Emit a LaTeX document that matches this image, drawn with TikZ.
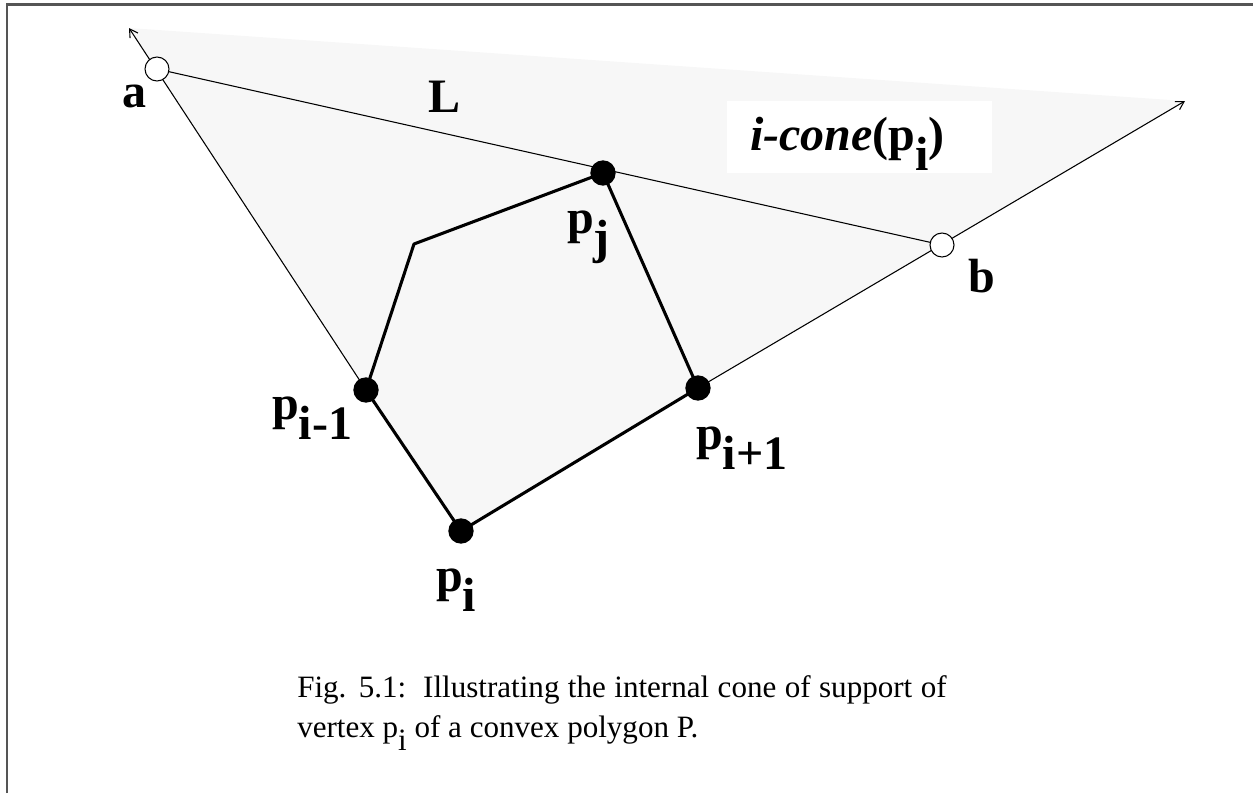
\documentclass[tikz,border=0pt]{standalone}
\usepackage{fontspec}
\setmainfont{Liberation Serif}
\usetikzlibrary{arrows.meta}
\definecolor{framegray}{HTML}{555555}
\definecolor{conegray}{HTML}{F7F7F7}
\newcommand{\lowsub}[1]{\raisebox{-0.42em}{#1}}
\tikzset{
  thinline/.style={line width=0.8pt, black},
  polyedge/.style={line width=2.3pt, black, line join=round},
  ray/.style={thinline, -{Straight Barb[length=6pt,width=7pt]}},
  vdot/.style={circle, fill=black, inner sep=0pt, minimum size=19pt},
  odot/.style={circle, fill=white, draw=black, line width=0.8pt, inner sep=0pt, minimum size=18pt},
  lbl/.style={anchor=base west, inner sep=0pt, font=\fontsize{36}{40}\selectfont\bfseries},
  captext/.style={anchor=base west, inner sep=0pt, font=\fontsize{23.3}{30}\selectfont},
}
\begin{document}
\begin{tikzpicture}[x=0.75pt, y=-0.75pt]
\useasboundingbox (0,0) rectangle (1253,793);
% coordinates
\coordinate (Pim1) at (366,390);
\coordinate (Pi) at (461,531);
\coordinate (Pip1) at (698,388);
\coordinate (Pj) at (603,173);
\coordinate (Q) at (414,244);
\coordinate (A) at (157,69);
\coordinate (B) at (942,245);
\coordinate (TA) at (129,28);
\coordinate (TB) at (1185,101);
% frame
\draw[framegray, line width=1.9pt] (7,793) -- (7,4.5) -- (1253,4.5);
% shaded cone
\fill[conegray] (TA) -- (TB) -- (Pip1) -- (Pi) -- (Pim1) -- cycle;
% label box
\fill[white] (727,101) rectangle (992,173);
% rays and line L
\draw[ray] (Pim1) -- (TA);
\draw[ray] (Pip1) -- (TB);
\draw[thinline] (A) -- (B);
% polygon
\draw[polyedge] (Pi) -- (Pim1) -- (Q) -- (Pj) -- (Pip1) -- cycle;
% vertices
\node[vdot] (pim1) at (Pim1) {};
\node[vdot] (pi) at (Pi) {};
\node[vdot] (pip1) at (Pip1) {};
\node[vdot] (pj) at (Pj) {};
\node[odot] (a) at (A) {};
\node[odot] (b) at (B) {};
% labels
\node[lbl] (la) at (122,107) {a};
\node[lbl] (lL) at (428,112) {L};
\node[lbl] (lb) at (968,292) {b};
\node[lbl] (lpj) at (567,233) {p\lowsub{j}};
\node[lbl] (lpim1) at (272,419) {p\lowsub{i-1}};
\node[lbl] (lpip1) at (696,449) {p\lowsub{i+1}};
\node[lbl] (lpi) at (436,591) {p\lowsub{i}};
\node[lbl] (lcone) at (750,150) {\textit{i-cone}(p\lowsub{i})};
% caption
\node[captext] (cap1) at (297,697) {\makebox[487pt][s]{Fig. 5.1:\ \ Illustrating the internal cone of support of}};
\node[captext] (cap2) at (297,737) {vertex p\lowsub{i} of a convex polygon P.};
\end{tikzpicture}
\end{document}
